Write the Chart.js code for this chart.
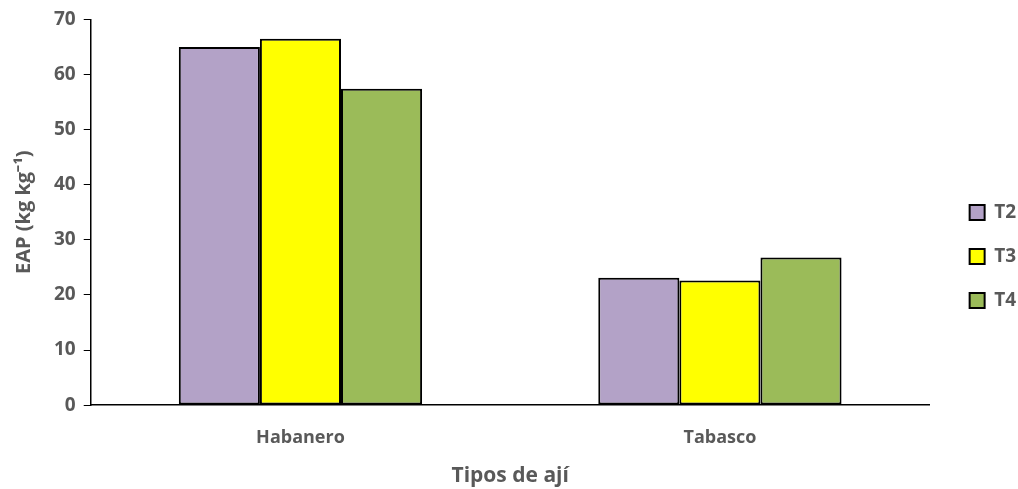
<!DOCTYPE html>
<html>
<head>
<meta charset="utf-8">
<script src="https://cdn.jsdelivr.net/npm/chart.js@4/dist/chart.umd.min.js"></script>
<style>
  html, body { margin: 0; padding: 0; background: #fff; }
  #wrap { width: 1018px; height: 489px; }
</style>
</head>
<body>
<div id="wrap"><canvas id="eapChart"></canvas></div>
<script>
const categories = ['Habanero', 'Tabasco'];
const seriesNames = ['T2', 'T3', 'T4'];
const t2Values = [65.0, 23.1];
const t3Values = [66.5, 22.6];
const t4Values = [57.4, 26.8];
const seriesColors = ['#B3A2C7', '#FFFF00', '#9BBB59'];

const textColor = '#595959';
const fontFamily = "'Open Sans', 'Liberation Sans', sans-serif";

function makeDataset(label, values, color) {
    return {
        label: label,
        data: values,
        backgroundColor: color,
        borderColor: '#000',
        borderWidth: 2,
        borderSkipped: false,
        categoryPercentage: 0.58,
        barPercentage: 1.0
    };
}

const ctx = document.getElementById('eapChart').getContext('2d');
const chart = new Chart(ctx, {
    type: 'bar',
    data: {
        labels: categories,
        datasets: [
            makeDataset(seriesNames[0], t2Values, seriesColors[0]),
            makeDataset(seriesNames[1], t3Values, seriesColors[1]),
            makeDataset(seriesNames[2], t4Values, seriesColors[2])
        ]
    },
    options: {
        responsive: true,
        maintainAspectRatio: false,
        animation: false,
        layout: {
            padding: { top: 10, right: -8, left: 12, bottom: 4 }
        },
        plugins: {
            tooltip: { enabled: false },
            legend: {
                position: 'right',
                align: 'center',
                // empty title only nudges the entries down a little
                title: { display: true, text: '', padding: 3, font: { size: 10 } },
                labels: {
                    boxWidth: 15,
                    boxHeight: 15,
                    padding: 25,
                    color: textColor,
                    font: { family: fontFamily, size: 19, weight: 'bold' }
                }
            }
        },
        scales: {
            x: {
                grid: { display: false, drawTicks: false },
                border: { color: '#000', width: 1.5 },
                ticks: {
                    color: textColor,
                    padding: 24,
                    font: { family: fontFamily, size: 18, weight: 'bold', lineHeight: 1.0 }
                },
                title: {
                    display: true,
                    text: 'Tipos de ají',
                    color: textColor,
                    padding: { top: -5, bottom: 0 },
                    font: { family: fontFamily, size: 21, weight: 'bold', lineHeight: 0.9 }
                }
            },
            y: {
                min: 0,
                max: 70,
                grid: {
                    display: true,
                    drawOnChartArea: false,
                    drawTicks: true,
                    tickLength: 7,
                    color: '#000'
                },
                border: { color: '#000', width: 1.5 },
                ticks: {
                    stepSize: 10,
                    color: textColor,
                    padding: 8,
                    font: { family: fontFamily, size: 19, weight: 'bold' }
                },
                title: {
                    display: true,
                    text: 'EAP (kg kg⁻¹)',
                    color: textColor,
                    padding: { top: 0, bottom: 10 },
                    font: { family: fontFamily, size: 20, weight: 'bold' }
                }
            },
            // blank strip between the plot and the legend
            gap: {
                position: 'right',
                display: true,
                grid: { display: false },
                border: { display: false },
                ticks: { display: false },
                afterFit: (scale) => { scale.width = 15; }
            }
        }
    }
});
</script>
</body>
</html>
